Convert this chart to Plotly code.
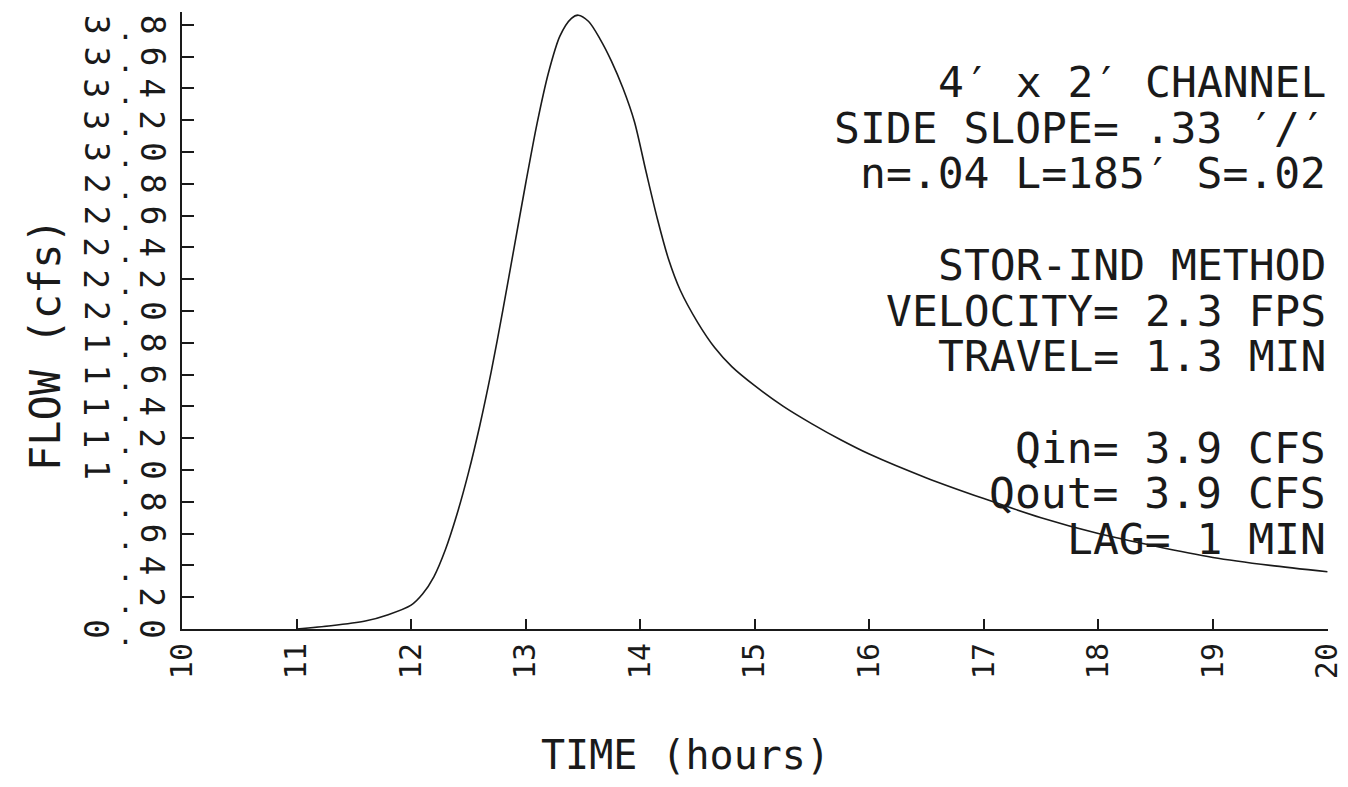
import plotly.graph_objects as go

# ---------------- data ----------------
time_h = [11.0, 11.3, 11.6, 11.8, 12.0, 12.1, 12.2, 12.3, 12.4, 12.5,
          12.6, 12.7, 12.8, 12.9, 13.0, 13.1, 13.2, 13.3, 13.4, 13.46,
          13.55, 13.65, 13.75, 13.85, 13.95, 14.05, 14.15, 14.25, 14.35, 14.5,
          14.65, 14.8, 15.0, 15.25, 15.5, 15.75, 16.0, 16.5, 17.0, 17.5,
          18.0, 18.5, 19.0, 19.5, 20.0]
flow_cfs = [0.00, 0.02, 0.05, 0.09, 0.15, 0.22, 0.33, 0.50, 0.72, 0.98,
            1.28, 1.62, 2.00, 2.40, 2.80, 3.18, 3.50, 3.73, 3.84, 3.86,
            3.82, 3.71, 3.57, 3.40, 3.19, 2.88, 2.58, 2.32, 2.13, 1.93,
            1.77, 1.65, 1.53, 1.40, 1.29, 1.19, 1.10, 0.95, 0.82, 0.70,
            0.60, 0.52, 0.45, 0.40, 0.36]

x_tickvals = [10, 11, 12, 13, 14, 15, 16, 17, 18, 19, 20]
x_ticktext = ["10", "11", "12", "13", "14", "15", "16", "17", "18", "19", "20"]

y_tickvals = [0.0, 0.2, 0.4, 0.6, 0.8, 1.0, 1.2, 1.4, 1.6, 1.8,
              2.0, 2.2, 2.4, 2.6, 2.8, 3.0, 3.2, 3.4, 3.6, 3.8]
y_ticktext = ["0.0", ".2", ".4", ".6", ".8", "1.0", "1.2", "1.4", "1.6", "1.8",
              "2.0", "2.2", "2.4", "2.6", "2.8", "3.0", "3.2", "3.4", "3.6", "3.8"]

info_lines = ["4′ x 2′ CHANNEL", "SIDE SLOPE= .33 ′/′", "n=.04 L=185′ S=.02", "",
              "STOR-IND METHOD", "VELOCITY= 2.3 FPS", "TRAVEL= 1.3 MIN", "",
              "Qin= 3.9 CFS", "Qout= 3.9 CFS", "LAG= 1 MIN"]

x_title = "TIME (hours)"
y_title = "FLOW (cfs)"

# ---------------- layout constants ----------------
W, H = 1348, 787
ML, MR, MT, MB = 182, 20, 12, 158
PLOT_H = H - MT - MB
FONT = "DejaVu Sans Mono"
INK = "#1a1a1a"


def paper_y(py):
    return (H - MB - py) / PLOT_H


def paper_x(px):
    return (px - ML) / (W - ML - MR)


fig = go.Figure()
fig.add_trace(go.Scatter(
    x=time_h, y=flow_cfs, mode="lines",
    line=dict(color=INK, width=1.6, shape="spline", smoothing=0.8),
    hoverinfo="skip", showlegend=False,
))

annotations = []

# y tick labels: glyphs set in three fixed columns, each digit turned sideways
col_shift = [-86, -57, -30]
for val, lab in zip(y_tickvals, y_ticktext):
    chars = lab.rjust(3)
    for ci, ch in enumerate(chars):
        if ch == " ":
            continue
        if ch == ".":
            annotations.append(dict(
                x=0, xref="paper", y=val, yref="y", xshift=col_shift[ci], yshift=-5,
                text=".", showarrow=False, xanchor="center", yanchor="middle",
                font=dict(family=FONT, size=28, color=INK)))
        else:
            annotations.append(dict(
                x=0, xref="paper", y=val, yref="y", xshift=col_shift[ci],
                text=ch, textangle=90, showarrow=False, xanchor="center", yanchor="middle",
                font=dict(family=FONT, size=33, color=INK)))

# information block on the right
for i, line in enumerate(info_lines):
    if not line:
        continue
    annotations.append(dict(
        x=1, xref="paper", y=paper_y(82 + 45.7 * i), yref="paper",
        text=line, showarrow=False, xanchor="right", yanchor="middle",
        font=dict(family=FONT, size=43, color=INK)))

# axis titles
annotations.append(dict(
    x=paper_x(685), xref="paper", y=paper_y(755), yref="paper",
    text=x_title, showarrow=False, xanchor="center", yanchor="middle",
    font=dict(family=FONT, size=40, color=INK)))
annotations.append(dict(
    x=paper_x(45), xref="paper", y=paper_y(345), yref="paper",
    text=y_title, textangle=-90, showarrow=False, xanchor="center", yanchor="middle",
    font=dict(family=FONT, size=42, color=INK)))

fig.update_layout(
    width=W, height=H,
    margin=dict(l=ML, r=MR, t=MT, b=MB, pad=0, autoexpand=False),
    paper_bgcolor="white", plot_bgcolor="white",
    showlegend=False,
    annotations=annotations,
    xaxis=dict(
        range=[10, 20.005], tickvals=x_tickvals, ticktext=x_ticktext,
        tickangle=-90, ticks="inside", ticklen=10, tickwidth=2, tickcolor=INK,
        showline=True, linewidth=2, linecolor=INK, mirror=False, automargin=False,
        showgrid=False, zeroline=False, ticklabeloverflow="allow",
        tickfont=dict(family=FONT, size=30, color=INK),
    ),
    yaxis=dict(
        range=[0, 3.88], tickvals=y_tickvals, showticklabels=False,
        ticks="inside", ticklen=12, tickwidth=2, tickcolor=INK,
        showline=True, linewidth=2, linecolor=INK, mirror=False, automargin=False,
        showgrid=False, zeroline=False,
    ),
)

fig.write_html("out.html")
